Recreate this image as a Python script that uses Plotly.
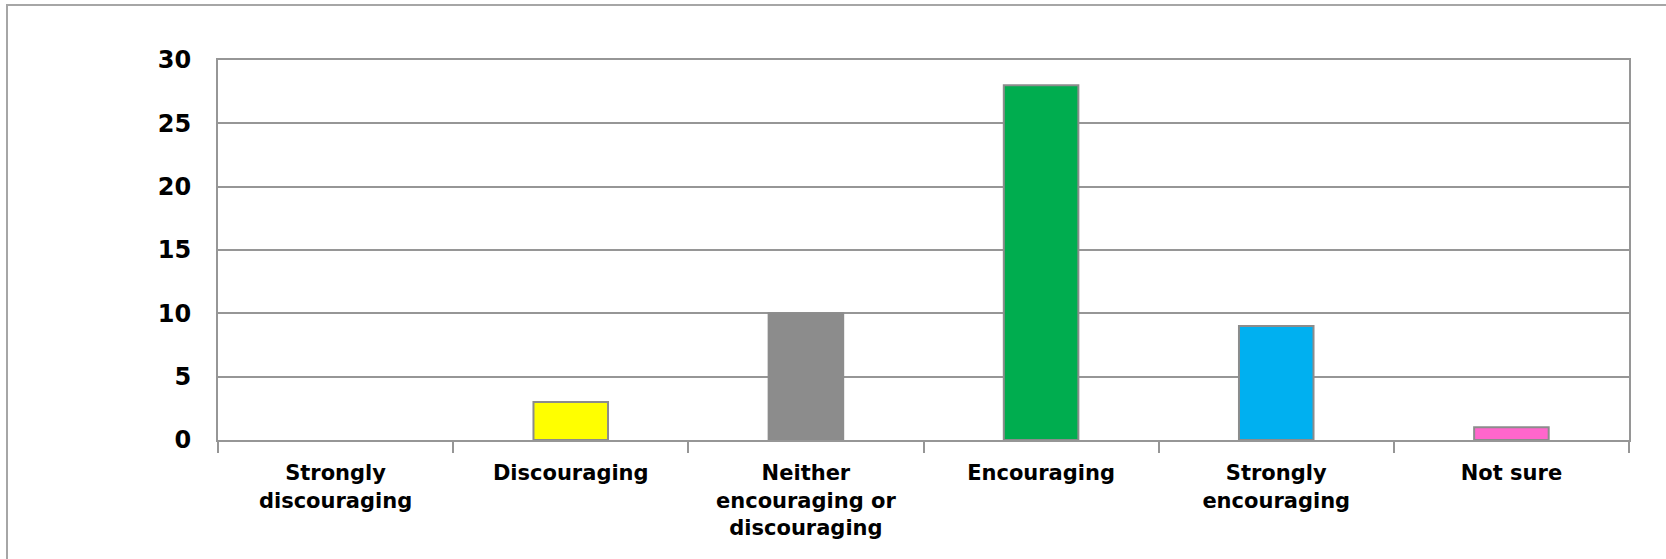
import plotly.graph_objects as go

categories = ["Strongly<br>discouraging", "Discouraging", "Neither<br>encouraging or<br>discouraging",
              "Encouraging", "Strongly<br>encouraging", "Not sure"]
values = [0, 3, 10, 28, 9, 1]
colors = ["#FF0000", "#FFFF00", "#8C8C8C", "#00AD4F", "#00B0F0", "#FF66CC"]
y_ticks = [0, 5, 10, 15, 20, 25, 30]

W, H = 1666, 559
L, R, T, B = 218, 37, 60, 119
pw, ph = W - L - R, H - T - B

fig = go.Figure(go.Bar(
    x=categories, y=values,
    marker=dict(color=colors,
                line=dict(color="#8C8C8C", width=[0 if v == 0 else 2 for v in values])),
    width=0.317,
))

grid = "#969696"
fig.update_layout(
    width=W, height=H,
    margin=dict(l=L, r=R, t=T, b=B),
    paper_bgcolor="white", plot_bgcolor="white",
    showlegend=False,
    font=dict(family="DejaVu Sans", color="black"),
    xaxis=dict(
        showline=True, linecolor=grid, linewidth=2, mirror=True,
        ticks="outside", ticklen=11, tickcolor=grid, tickwidth=2,
        tickson="boundaries",
        tickfont=dict(family="DejaVu Sans", size=21, color="black", weight="bold"),
        ticklabelstandoff=13,
        showgrid=False,
    ),
    yaxis=dict(
        range=[0, 30], tickvals=y_ticks,
        showline=True, linecolor=grid, linewidth=2, mirror=True,
        showgrid=True, gridcolor=grid, gridwidth=2,
        ticks="", zeroline=False,
        tickfont=dict(family="DejaVu Sans", size=24, color="black", weight="bold"),
        ticklabelstandoff=20,
    ),
    shapes=[dict(
        type="rect", xref="paper", yref="paper",
        x0=(7 - L) / pw, x1=(W + 20 - L) / pw,
        y0=-(H + 20 - T - ph) / ph, y1=(ph + T - 5) / ph,
        line=dict(color="#A6A6A6", width=2), fillcolor="rgba(0,0,0,0)", layer="below",
    )],
)

fig.write_html("out.html")
